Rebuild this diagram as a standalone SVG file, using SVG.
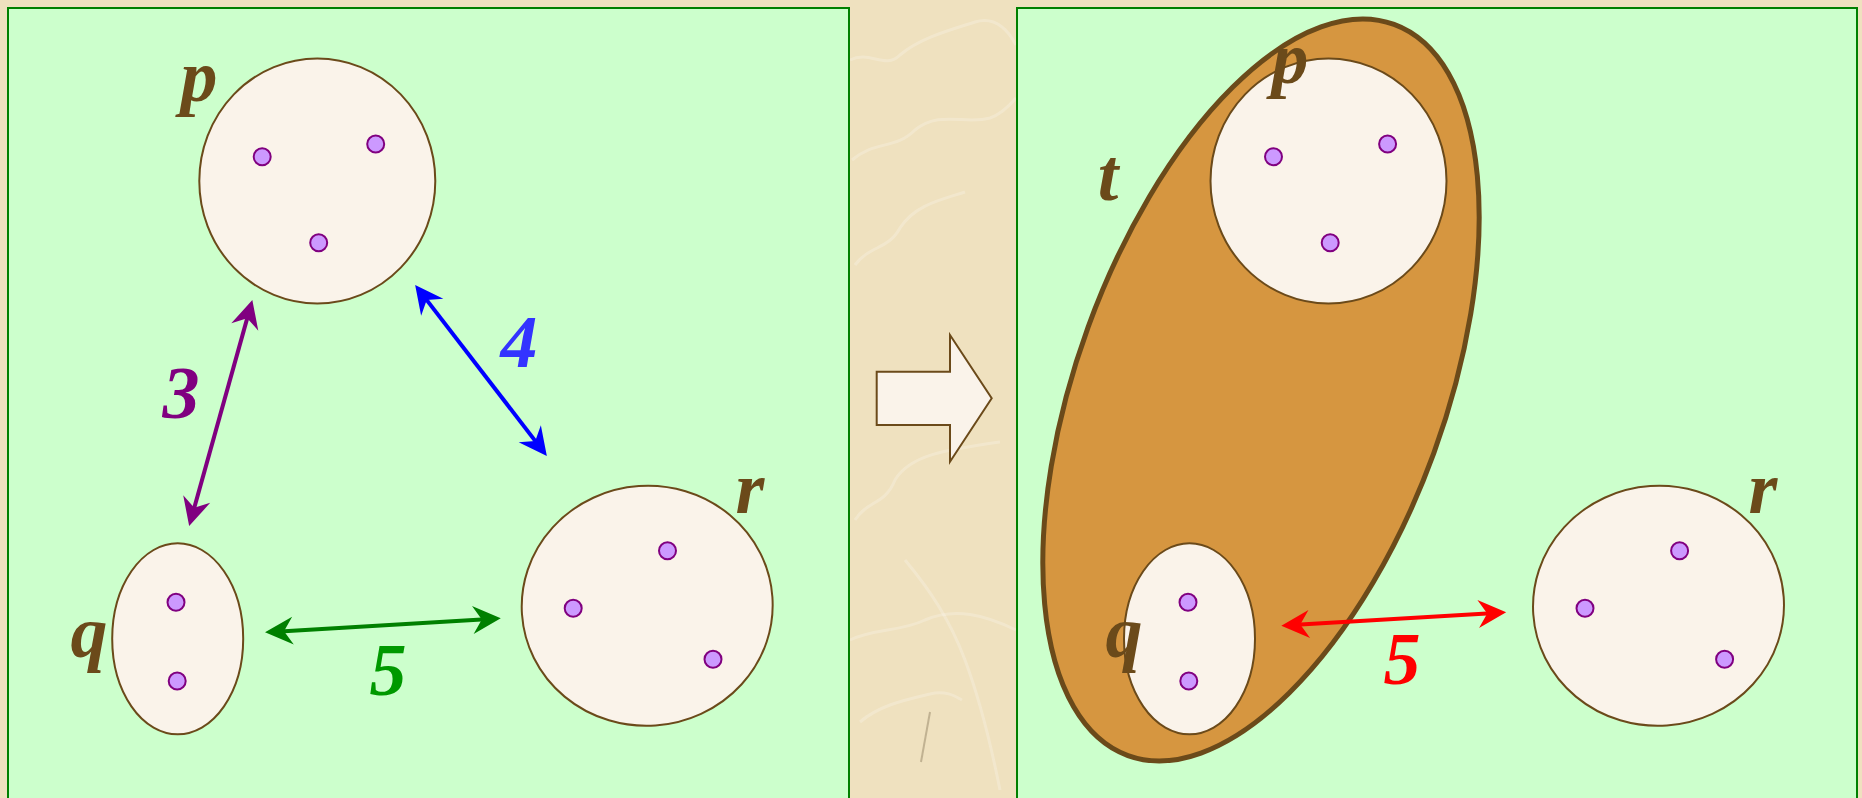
<svg xmlns="http://www.w3.org/2000/svg" width="1862" height="798" viewBox="0 0 1862 798">
<style>
.panel{fill:#CCFFCC;stroke:#008000;stroke-width:2}
.set{fill:#FAF3EA;stroke:#6B4A1A;stroke-width:2}
.dot{fill:#CC99FF;stroke:#800080;stroke-width:2}
.lbl{font-family:"Liberation Serif",serif;font-weight:bold;font-style:italic;font-size:74px;text-anchor:middle}
.brown{fill:#6B4A1A}
.vein{fill:none;stroke:#FFFFFF;stroke-opacity:0.22;stroke-width:3}
.conn{fill:none;stroke-width:4}
</style>
<defs>
<marker id="mP" markerUnits="userSpaceOnUse" orient="auto-start-reverse" markerWidth="40" markerHeight="40" refX="0" refY="0" viewBox="-20 -20 40 40" overflow="visible"><path d="M15,0 L-13,-14 L-4,0 L-13,14 z" fill="#800080"/></marker>
<marker id="mB" markerUnits="userSpaceOnUse" orient="auto-start-reverse" markerWidth="40" markerHeight="40" refX="0" refY="0" viewBox="-20 -20 40 40" overflow="visible"><path d="M15,0 L-13,-14 L-4,0 L-13,14 z" fill="#0000FF"/></marker>
<marker id="mG" markerUnits="userSpaceOnUse" orient="auto-start-reverse" markerWidth="40" markerHeight="40" refX="0" refY="0" viewBox="-20 -20 40 40" overflow="visible"><path d="M15,0 L-13,-14 L-4,0 L-13,14 z" fill="#008000"/></marker>
<marker id="mR" markerUnits="userSpaceOnUse" orient="auto-start-reverse" markerWidth="40" markerHeight="40" refX="0" refY="0" viewBox="-20 -20 40 40" overflow="visible"><path d="M15,0 L-13,-14 L-4,0 L-13,14 z" fill="#FF0000"/></marker>
</defs>
<rect x="0" y="0" width="1862" height="798" fill="#EFE1BF"/>
<g id="texture">
<path class="vein" d="M850,60 C870,50 885,70 900,55 C920,38 950,30 975,22 C995,16 1008,30 1016,45"/>
<path class="vein" d="M852,160 C875,140 895,150 915,130 C940,110 965,125 990,118 C1002,114 1010,105 1016,98"/>
<path class="vein" d="M855,265 C870,245 888,250 900,228 C915,205 940,200 965,192"/>
<path class="vein" d="M855,520 C868,500 885,505 895,480 C910,455 945,450 1000,442"/>
<path class="vein" d="M850,640 C875,628 900,632 925,620 C955,607 985,615 1016,630"/>
<path class="vein" d="M905,560 C930,590 950,620 965,660 C980,700 990,740 1000,790"/>
<path class="vein" d="M860,722 C880,705 905,700 930,694 C945,690 955,696 962,700"/>
<path d="M930,712 C927,728 924,745 921,762" stroke="#8A7A5A" stroke-opacity="0.45" stroke-width="2" fill="none"/>
</g>
<g id="left-panel"><rect class="panel" x="8" y="8" width="841" height="800"/></g>
<g id="right-panel"><rect class="panel" x="1017" y="8" width="840" height="800"/></g>
<g id="transform-arrow"><polygon points="876.7,371.7 950,371.7 950,335 991.7,398.3 950,461.7 950,425 876.7,425" fill="#FAF3EA" stroke="#6B4A1A" stroke-width="2"/></g>

<g id="set-p-left">
<ellipse class="set" cx="317.3" cy="181" rx="118" ry="122.5"/>
<circle class="dot" cx="262.2" cy="156.7" r="8.5"/>
<circle class="dot" cx="375.7" cy="144" r="8.5"/>
<circle class="dot" cx="318.7" cy="242.7" r="8.5"/>
<text class="lbl brown" x="199" y="101">p</text>
</g>
<g id="set-q-left">
<ellipse class="set" cx="177.7" cy="638.8" rx="65.5" ry="95.5"/>
<circle class="dot" cx="176" cy="602.3" r="8.5"/>
<circle class="dot" cx="177.2" cy="681" r="8.5"/>
<text class="lbl brown" x="89" y="657">q</text>
</g>
<g id="set-r-left">
<ellipse class="set" cx="647.2" cy="605.8" rx="125.5" ry="120" transform="rotate(-4 647.2 605.8)"/>
<circle class="dot" cx="667.5" cy="550.7" r="8.5"/>
<circle class="dot" cx="573.2" cy="608.3" r="8.5"/>
<circle class="dot" cx="713" cy="659.3" r="8.5"/>
<text class="lbl brown" x="750" y="513">r</text>
</g>

<g id="connectors">
<line class="conn" stroke="#800080" x1="248.3" y1="314.4" x2="193.2" y2="511.6" marker-start="url(#mP)" marker-end="url(#mP)"/>
<line class="conn" stroke="#0000FF" x1="424.3" y1="296.9" x2="537.7" y2="444.1" marker-start="url(#mB)" marker-end="url(#mB)"/>
<line class="conn" stroke="#008000" x1="280" y1="631.4" x2="485.8" y2="619.2" marker-start="url(#mG)" marker-end="url(#mG)"/>
</g>
<g id="edge-labels">
<text class="lbl" fill="#800080" x="181" y="418">3</text>
<text class="lbl" fill="#3333FF" x="519" y="367">4</text>
<text class="lbl" fill="#009900" x="388" y="695">5</text>
</g>

<g id="set-t">
<ellipse cx="1261" cy="390" rx="184" ry="389" transform="rotate(20 1261 390)" fill="#D69640" stroke="#6B4A1A" stroke-width="5"/>
<text class="lbl brown" x="1108" y="200">t</text>
</g>
<g id="set-p-right">
<ellipse class="set" cx="1328.5" cy="181" rx="118" ry="122.5"/>
<circle class="dot" cx="1273.5" cy="156.7" r="8.5"/>
<circle class="dot" cx="1387.6" cy="144" r="8.5"/>
<circle class="dot" cx="1330.2" cy="242.7" r="8.5"/>
<text class="lbl brown" x="1290" y="83">p</text>
</g>
<g id="set-q-right">
<ellipse class="set" cx="1189.5" cy="638.8" rx="65.5" ry="95.5"/>
<circle class="dot" cx="1188" cy="602.3" r="8.5"/>
<circle class="dot" cx="1188.8" cy="681" r="8.5"/>
<text class="lbl brown" x="1124" y="657">q</text>
</g>
<g id="set-r-right">
<ellipse class="set" cx="1658.5" cy="605.8" rx="125.5" ry="120" transform="rotate(-4 1658.5 605.8)"/>
<circle class="dot" cx="1679.6" cy="550.7" r="8.5"/>
<circle class="dot" cx="1585" cy="608.3" r="8.5"/>
<circle class="dot" cx="1724.6" cy="659.3" r="8.5"/>
<text class="lbl brown" x="1763" y="513">r</text>
</g>
<g id="connectors-right">
<line class="conn" stroke="#FF0000" x1="1296.3" y1="624.8" x2="1491.2" y2="613.2" marker-start="url(#mR)" marker-end="url(#mR)"/>
</g>
<g id="edge-labels-right">
<text class="lbl" fill="#FF0000" x="1402" y="684">5</text>
</g>
</svg>
